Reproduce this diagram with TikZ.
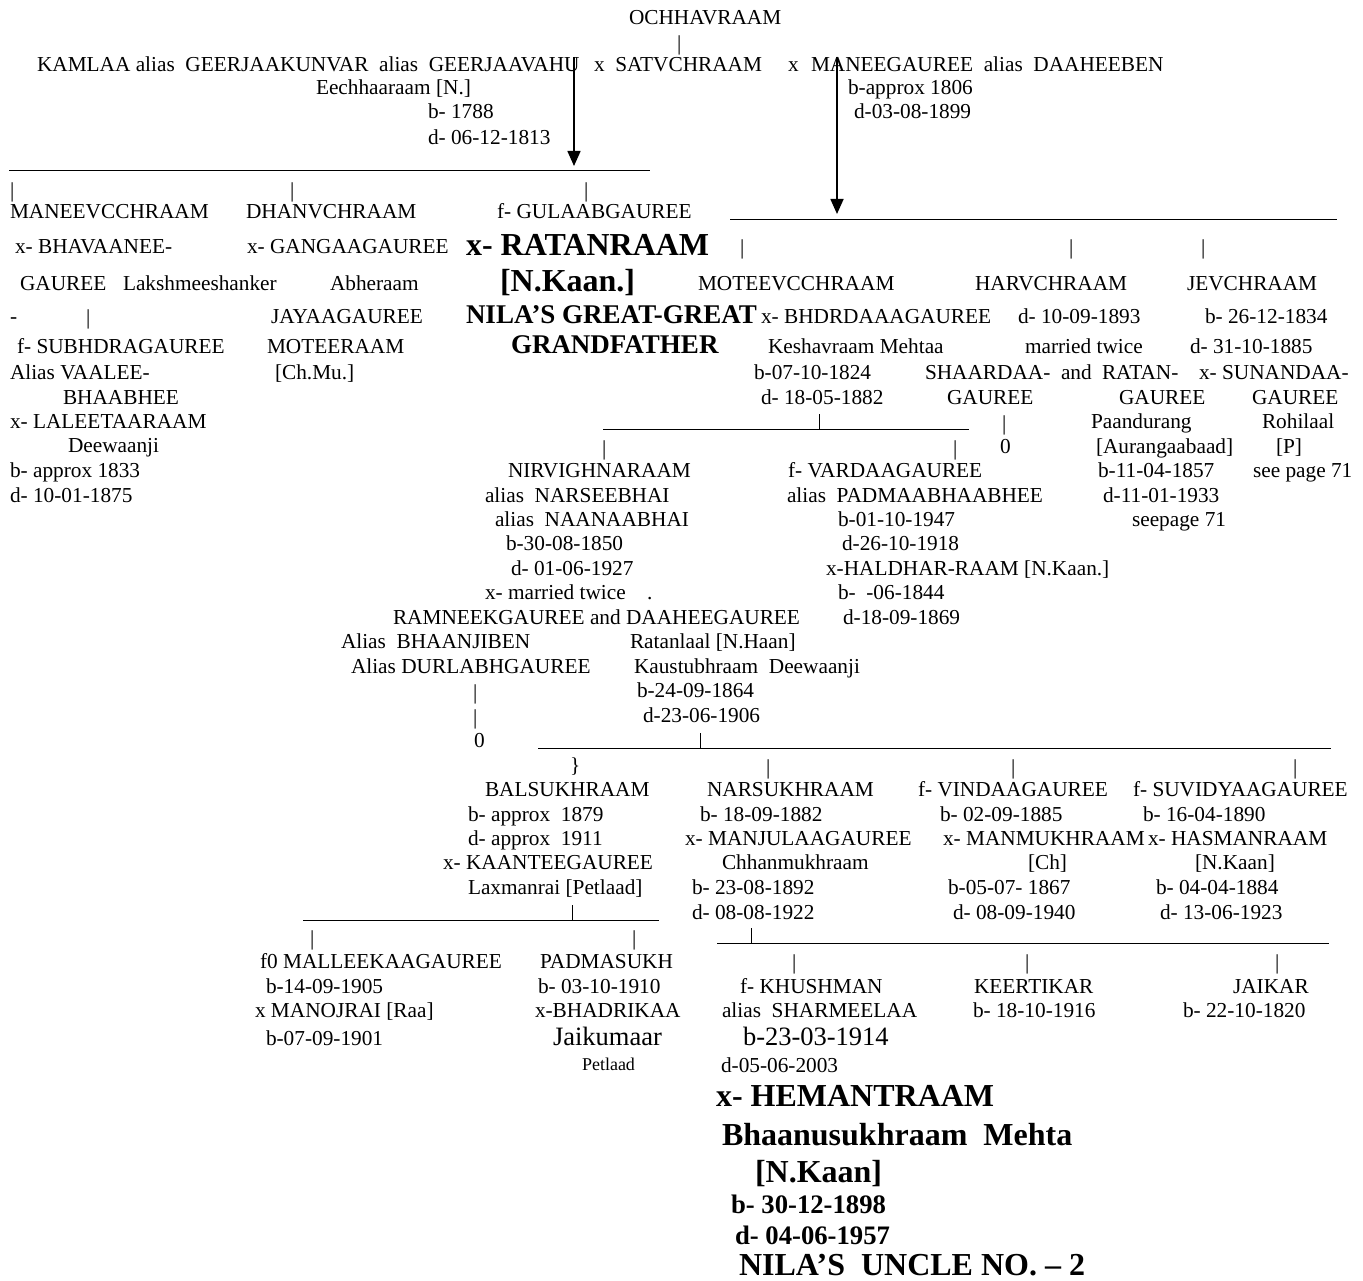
\documentclass[tikz,border=0pt]{standalone}
\usepackage{fontspec}
\setmainfont{Liberation Serif}
\usetikzlibrary{arrows.meta}
\tikzset{
  txt/.style={anchor=base west, inner sep=0pt, outer sep=0pt, yshift=-7pt, font=\fontsize{21.3}{24}\selectfont},
  pipe/.style={txt, yshift=-1pt},
  big/.style={txt, yshift=-3.5pt, font=\bfseries\fontsize{32}{36}\selectfont},
  mid/.style={txt, yshift=-2pt, font=\bfseries\fontsize{27}{30}\selectfont},
  bdate/.style={txt, yshift=-1.85pt, font=\bfseries\fontsize{26.7}{30}\selectfont},
  large/.style={txt, yshift=-1.8pt, font=\fontsize{26.5}{30}\selectfont},
  small/.style={txt, yshift=1pt, font=\fontsize{18}{21}\selectfont},
  uline/.style={line width=0.9pt},
  junc/.style={line width=0.8pt},
  arr/.style={line width=1.6pt, -{Triangle[width=13pt,length=15pt]}}
}
\newcommand\Tx[5][txt]{\node[#1] (#2) at (#3,#4) {#5};}
\newcommand\Pp[3]{\node[pipe] (#1) at (#2-2,#3) {|};}
\begin{document}
\begin{tikzpicture}[x=1pt,y=-1pt]
\fill[white] (0,0) rectangle (1363,1281);
\useasboundingbox (0,0) rectangle (1363,1281);

% top generation
\Tx{och}{629}{18}{OCHHAVRAAM}
\Pp{p0}{679}{43}
\Tx{kam}{37}{65}{KAMLAA alias\ \ GEERJAAKUNVAR\ \ alias\ \ GEERJAAVAHU}
\Tx{sat}{594}{65}{x\ \ SATVCHRAAM}
\Tx{x2}{788}{65}{x}
\Tx{man}{811}{65}{MANEEGAUREE\ \ alias\ \ DAAHEEBEN}
\Tx{eech}{316}{88}{Eechhaaraam [N.]}
\Tx{b1788}{428}{112}{b- 1788}
\Tx{d1813}{428}{138}{d- 06-12-1813}
\Tx{b1806}{848}{88}{b-approx 1806}
\Tx{d1899}{854}{112}{d-03-08-1899}

\coordinate (a1s) at (574,57);
\coordinate (a1e) at (574,166);
\coordinate (a2s) at (837,57);
\coordinate (a2e) at (837,214);
\draw[arr] (a1s) -- (a1e);
\draw[arr] (a2s) -- (a2e);

% line 1 and children
\coordinate (l1a) at (9,170); \coordinate (l1b) at (650,170);
\draw[uline] (l1a) -- (l1b);
\Pp{p1}{12}{190}
\Pp{p2}{292}{190}
\Pp{p3}{586}{190}

\Tx{maneev}{10}{212}{MANEEVCCHRAAM}
\Tx{dhan}{246}{212}{DHANVCHRAAM}
\Tx{gul}{497}{212}{f- GULAABGAUREE}

\coordinate (l2a) at (730,219); \coordinate (l2b) at (1337,219);
\draw[uline] (l2a) -- (l2b);

\Tx{bhav}{15}{247}{x- BHAVAANEE-}
\Tx{gang}{247}{247}{x- GANGAAGAUREE}
\Tx[big]{ratan}{466}{245}{x- RATANRAAM}
\Pp{p4}{742}{247}
\Pp{p5}{1071}{247}
\Pp{p6}{1203}{247}

\Tx{gaur1}{20}{284}{GAUREE}
\Tx{laksh}{123}{284}{Lakshmeeshanker}
\Tx{abh}{330}{284}{Abheraam}
\Tx[big]{nkaan}{500}{281}{[N.Kaan.]}
\Tx{motv}{698}{284}{MOTEEVCCHRAAM}
\Tx{harv}{975}{284}{HARVCHRAAM}
\Tx{jev}{1187}{284}{JEVCHRAAM}

\Tx{dash1}{10}{317}{-}
\Pp{p7}{88}{317}
\Tx{jaya}{271}{317}{JAYAAGAUREE}
\Tx[mid]{nila1}{466}{315}{NILA’S GREAT-GREAT}
\Tx{bhdr}{761}{317}{x- BHDRDAAAGAUREE}
\Tx{d1893}{1018}{317}{d- 10-09-1893}
\Tx{b1834}{1205}{317}{b- 26-12-1834}

\Tx{subh}{17}{347}{f- SUBHDRAGAUREE}
\Tx{moter}{267}{347}{MOTEERAAM}
\Tx[mid]{grand}{511}{345}{GRANDFATHER}
\Tx{kesh}{768}{347}{Keshavraam Mehtaa}
\Tx{mtw1}{1025}{347}{married twice}
\Tx{d1885}{1190}{347}{d- 31-10-1885}

\Tx{vaal}{10}{372}{Alias VAALEE-}
\Tx{chmu}{275}{372}{[Ch.Mu.]}
\Tx{b1824}{754}{372}{b-07-10-1824}
\Tx{shaar}{925}{372}{SHAARDAA-}
\Tx{and1}{1061}{372}{and}
\Tx{ratan2}{1102}{372}{RATAN-}
\Tx{sunan}{1199}{372}{x- SUNANDAA-}

\Tx{bhaab}{63}{397}{BHAABHEE}
\Tx{d1882}{761}{397}{d- 18-05-1882}
\Tx{gaur2}{947}{397}{GAUREE}
\Tx{gaur3}{1119}{397}{GAUREE}
\Tx{gaur4}{1252}{397}{GAUREE}

\Tx{lalee}{10}{421}{x- LALEETAARAAM}
\coordinate (l3a) at (603,429); \coordinate (l3b) at (969,429);
\coordinate (j3) at (819,429); \coordinate (j3t) at (819,414);
\draw[uline] (l3a) -- (l3b);
\draw[junc] (j3) -- (j3t);
\Pp{p8}{1004}{422}
\Tx{paan}{1091}{421}{Paandurang}
\Tx{rohi}{1262}{421}{Rohilaal}

\Tx{deew1}{68}{445}{Deewaanji}
\Pp{p9}{604}{447}
\Pp{p10}{955}{447}
\Tx{zero1}{1000}{446}{0}
\Tx{aur}{1096}{446}{[Aurangaabaad]}
\Tx{pp}{1276}{446}{[P]}

\Tx{b1833}{10}{470}{b- approx 1833}
\Tx{nirv}{508}{470}{NIRVIGHNARAAM}
\Tx{vard}{788}{470}{f- VARDAAGAUREE}
\Tx{b1857}{1098}{470}{b-11-04-1857}
\Tx{see1}{1253}{470}{see page 71}

\Tx{d1875}{10}{495}{d- 10-01-1875}
\Tx{nars}{485}{495}{alias\ \ NARSEEBHAI}
\Tx{padm}{787}{495}{alias\ \ PADMAABHAABHEE}
\Tx{d1933}{1103}{495}{d-11-01-1933}

\Tx{naan}{495}{519}{alias\ \ NAANAABHAI}
\Tx{b1947}{838}{519}{b-01-10-1947}
\Tx{see2}{1132}{519}{seepage 71}

\Tx{b1850}{506}{543}{b-30-08-1850}
\Tx{d1918}{842}{543}{d-26-10-1918}

\Tx{d1927}{511}{568}{d- 01-06-1927}
\Tx{hald}{826}{568}{x-HALDHAR-RAAM [N.Kaan.]}

\Tx{mtw2}{485}{592}{x- married twice}
\Tx{dot}{647}{592}{.}
\Tx{b1844}{838}{592}{b-\ \ -06-1844}

\Tx{ramn}{393}{617}{RAMNEEKGAUREE and DAAHEEGAUREE}
\Tx{d1869}{843}{617}{d-18-09-1869}

\Tx{bhaan}{341}{641}{Alias\ \ BHAANJIBEN}
\Tx{ratl}{630}{641}{Ratanlaal [N.Haan]}

\Tx{durl}{351}{666}{Alias DURLABHGAUREE}
\Tx{kaus}{634}{666}{Kaustubhraam\ \ Deewaanji}

\Pp{p11}{475}{691}
\Tx{b1864}{637}{690}{b-24-09-1864}
\Pp{p12}{475}{716}
\Tx{d1906}{643}{715}{d-23-06-1906}

\Tx{zero2}{474}{740}{0}
\coordinate (l4a) at (538,748); \coordinate (l4b) at (1331,748);
\coordinate (j4) at (700,748); \coordinate (j4t) at (700,733);
\draw[uline] (l4a) -- (l4b);
\draw[junc] (j4) -- (j4t);

\Tx{brace}{570}{765}{\}}
\Pp{p13}{768}{766}
\Pp{p14}{1013}{766}
\Pp{p15}{1295}{766}

\Tx{bals}{485}{789}{BALSUKHRAAM}
\Tx{narsu}{707}{789}{NARSUKHRAAM}
\Tx{vind}{918}{789}{f- VINDAAGAUREE}
\Tx{suvi}{1133}{789}{f- SUVIDYAAGAUREE}

\Tx{b1879}{468}{814}{b- approx\ \ 1879}
\Tx{b1882}{700}{814}{b- 18-09-1882}
\Tx{b1885}{940}{814}{b- 02-09-1885}
\Tx{b1890}{1143}{814}{b- 16-04-1890}

\Tx{d1911}{468}{838}{d- approx\ \ 1911}
\Tx{manj}{685}{838}{x- MANJULAAGAUREE}
\Tx{manm}{943}{838}{x- MANMUKHRAAM}
\Tx{hasm}{1148}{838}{x- HASMANRAAM}

\Tx{kaan}{443}{862}{x- KAANTEEGAUREE}
\Tx{chha}{722}{862}{Chhanmukhraam}
\Tx{ch}{1028}{862}{[Ch]}
\Tx{nkaan2}{1195}{862}{[N.Kaan]}

\Tx{laxm}{468}{887}{Laxmanrai [Petlaad]}
\Tx{b1892}{692}{887}{b- 23-08-1892}
\Tx{b1867}{948}{887}{b-05-07- 1867}
\Tx{b1884}{1156}{887}{b- 04-04-1884}

\coordinate (l5a) at (303,920); \coordinate (l5b) at (659,920);
\coordinate (j5) at (572,920); \coordinate (j5t) at (572,905);
\draw[uline] (l5a) -- (l5b);
\draw[junc] (j5) -- (j5t);
\Tx{d1922}{692}{912}{d- 08-08-1922}
\Tx{d1940}{953}{912}{d- 08-09-1940}
\Tx{d1923}{1160}{912}{d- 13-06-1923}

\Pp{p16}{312}{937}
\Pp{p17}{634}{937}
\coordinate (l6a) at (717,943); \coordinate (l6b) at (1329,943);
\coordinate (j6) at (751,943); \coordinate (j6t) at (751,928);
\draw[uline] (l6a) -- (l6b);
\draw[junc] (j6) -- (j6t);

\Pp{p18}{794}{961}
\Pp{p19}{1027}{961}
\Pp{p20}{1277}{961}
\Tx{mall}{260}{961}{f0 MALLEEKAAGAUREE}
\Tx{padms}{540}{961}{PADMASUKH}

\Tx{b1905}{266}{986}{b-14-09-1905}
\Tx{b1910}{538}{986}{b- 03-10-1910}
\Tx{khus}{740}{986}{f- KHUSHMAN}
\Tx{keer}{974}{986}{KEERTIKAR}
\Tx{jaik}{1233}{986}{JAIKAR}

\Tx{mano}{255}{1010}{x MANOJRAI [Raa]}
\Tx{bhad}{535}{1010}{x-BHADRIKAA}
\Tx{sharm}{722}{1010}{alias\ \ SHARMEELAA}
\Tx{b1916}{973}{1010}{b- 18-10-1916}
\Tx{b1820}{1183}{1010}{b- 22-10-1820}

\Tx{b1901}{266}{1038}{b-07-09-1901}
\Tx[large]{jaiku}{553}{1037}{Jaikumaar}
\Tx[large]{b1914}{743}{1037}{b-23-03-1914}

\Tx[small]{petl}{582}{1064}{Petlaad}
\Tx{d2003}{721}{1065}{d-05-06-2003}

\Tx[big]{hem}{716}{1096}{x- HEMANTRAAM}
\Tx[big]{bhaa}{722}{1135}{Bhaanusukhraam\ \ Mehta}
\Tx[big]{nkaan3}{755}{1172}{[N.Kaan]}
\Tx[bdate]{b1898}{731}{1205}{b- 30-12-1898}
\Tx[bdate]{d1957}{735}{1236}{d- 04-06-1957}
\Tx[big]{uncle}{739}{1265}{NILA’S\ \ UNCLE NO. – 2}
\end{tikzpicture}
\end{document}
